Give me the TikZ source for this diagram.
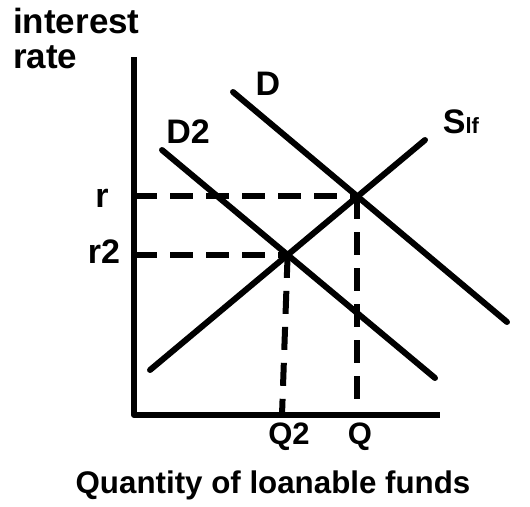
\documentclass[tikz,border=0pt]{standalone}
\usepackage{fontspec}
\setmainfont{Liberation Sans}
\begin{document}
\begin{tikzpicture}[x=1pt,y=-1pt,
  curve/.style={line width=6pt,line cap=round},
  axis/.style={line width=6pt,line join=round},
  guide/.style={line width=6pt,dash pattern=on 23pt off 13pt},
  lbl/.style={font=\fontsize{34}{36}\selectfont\bfseries,inner sep=0pt},
  biglbl/.style={font=\fontsize{35}{38}\selectfont\bfseries,inner sep=0pt},
  xlbl/.style={font=\fontsize{31.3}{34}\selectfont\bfseries,inner sep=0pt},
  qlbl/.style={font=\fontsize{31}{34}\selectfont\bfseries,inner sep=0pt}]
\useasboundingbox (0,0) rectangle (530,506);
% axes
\coordinate (top) at (134,57);
\coordinate (origin) at (134,415);
\coordinate (right) at (440,415);
\draw[axis] (top) -- (origin) -- (right);
% curves
\coordinate (Dtop) at (233,92);
\coordinate (Dbot) at (507,322);
\coordinate (DDtop) at (162,150);
\coordinate (DDbot) at (435,378);
\coordinate (Sbot) at (150,370);
\coordinate (Stop) at (425,140);
\draw[curve] (Dtop) -- (Dbot);
\draw[curve] (DDtop) -- (DDbot);
\draw[curve] (Sbot) -- (Stop);
\coordinate (E1) at (intersection of Dtop--Dbot and Sbot--Stop);
\coordinate (E2) at (intersection of DDtop--DDbot and Sbot--Stop);
\coordinate (Q2foot) at (282,415);
% guides
\draw[guide] (origin |- E1) -- (E1);
\draw[guide] (E1) -- (E1 |- origin);
\draw[guide] (origin |- E2) -- (E2);
\draw[guide] (E2) -- (Q2foot);
% labels
\node[biglbl,anchor=base west] (ylab1) at (13,33) {interest};
\node[biglbl,anchor=base west] (ylab2) at (13,68) {rate};
\node[lbl,anchor=base] (Dlab) at (268,95) {D};
\node[lbl,anchor=base] (DDlab) at (188,143) {D2};
\node[lbl,anchor=base] (Slab) at (461,133) {S{\fontsize{22}{24}\selectfont lf}};
\node[lbl,anchor=base] (rlab) at (102,207) {r};
\node[lbl,anchor=base] (rrlab) at (104,263) {r2};
\node[qlbl,anchor=base] (QQlab) at (289,444) {Q2};
\node[qlbl,anchor=base] (Qlab) at (360,444) {Q};
\node[xlbl,anchor=base] (xlab) at (273,493) {Quantity of loanable funds};
\end{tikzpicture}
\end{document}
